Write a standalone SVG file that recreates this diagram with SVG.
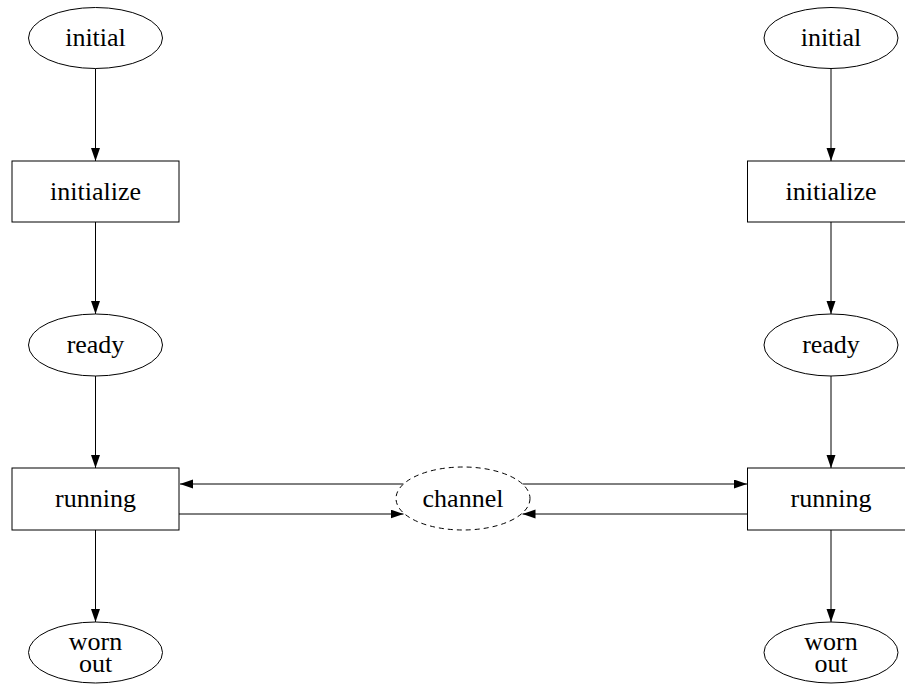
<svg xmlns="http://www.w3.org/2000/svg" width="905" height="684" viewBox="0 0 905 684">
<defs>
<style>
.n{fill:#fff;stroke:#000;stroke-width:1}
.d{fill:#fff;stroke:#000;stroke-width:1;stroke-dasharray:5 4}
.t{font-family:"Liberation Serif","Times New Roman",serif;font-size:26px;fill:#000;text-anchor:middle}
.e{fill:none;stroke:#000;stroke-width:1;marker-end:url(#ah)}
</style>
<marker id="ah" markerUnits="userSpaceOnUse" markerWidth="14" markerHeight="10" refX="13" refY="4.5" orient="auto">
<path d="M0,0 L13,4.5 L0,9 z" fill="#000"/>
</marker>
</defs>
<rect width="905" height="684" fill="#fff"/>
<g id="connectors">
<line class="e" x1="95.5" y1="68.5" x2="95.5" y2="161"/>
<line class="e" x1="95.5" y1="222" x2="95.5" y2="314"/>
<line class="e" x1="95.5" y1="376" x2="95.5" y2="468"/>
<line class="e" x1="95.5" y1="530" x2="95.5" y2="622"/>
<line class="e" x1="831" y1="68.5" x2="831" y2="161"/>
<line class="e" x1="831" y1="222" x2="831" y2="314"/>
<line class="e" x1="831" y1="376" x2="831" y2="468"/>
<line class="e" x1="831" y1="530" x2="831" y2="622"/>
<line class="e" x1="403.5" y1="484" x2="180" y2="484"/>
<line class="e" x1="179" y1="514" x2="403.5" y2="514"/>
<line class="e" x1="522.5" y1="484" x2="747" y2="484"/>
<line class="e" x1="747" y1="514" x2="522.5" y2="514"/>
</g>
<g id="initial1"><ellipse class="n" cx="95.5" cy="38" rx="67" ry="30.5"/><text class="t" x="95.5" y="46">initial</text></g>
<g id="initialize1"><rect class="n" x="12" y="161" width="167" height="61"/><text class="t" x="95.5" y="199.5">initialize</text></g>
<g id="ready1"><ellipse class="n" cx="95.5" cy="345" rx="67" ry="31"/><text class="t" x="95.5" y="353">ready</text></g>
<g id="running1"><rect class="n" x="12" y="468" width="167" height="62"/><text class="t" x="95.5" y="507">running</text></g>
<g id="wornout1"><ellipse class="n" cx="95.5" cy="652.5" rx="67" ry="30.5"/><text class="t" x="95.5" y="650">worn</text><text class="t" x="95.5" y="672">out</text></g>
<g id="channel"><ellipse class="d" cx="463" cy="498.5" rx="67" ry="31.5"/><text class="t" x="463" y="507">channel</text></g>
<g id="initial2"><ellipse class="n" cx="831" cy="38" rx="67" ry="30.5"/><text class="t" x="831" y="46">initial</text></g>
<g id="initialize2"><rect class="n" x="747.5" y="161" width="167" height="61"/><text class="t" x="831" y="199.5">initialize</text></g>
<g id="ready2"><ellipse class="n" cx="831" cy="345" rx="67" ry="31"/><text class="t" x="831" y="353">ready</text></g>
<g id="running2"><rect class="n" x="747.5" y="468" width="167" height="62"/><text class="t" x="831" y="507">running</text></g>
<g id="wornout2"><ellipse class="n" cx="831" cy="652.5" rx="67" ry="30.5"/><text class="t" x="831" y="650">worn</text><text class="t" x="831" y="672">out</text></g>
</svg>
